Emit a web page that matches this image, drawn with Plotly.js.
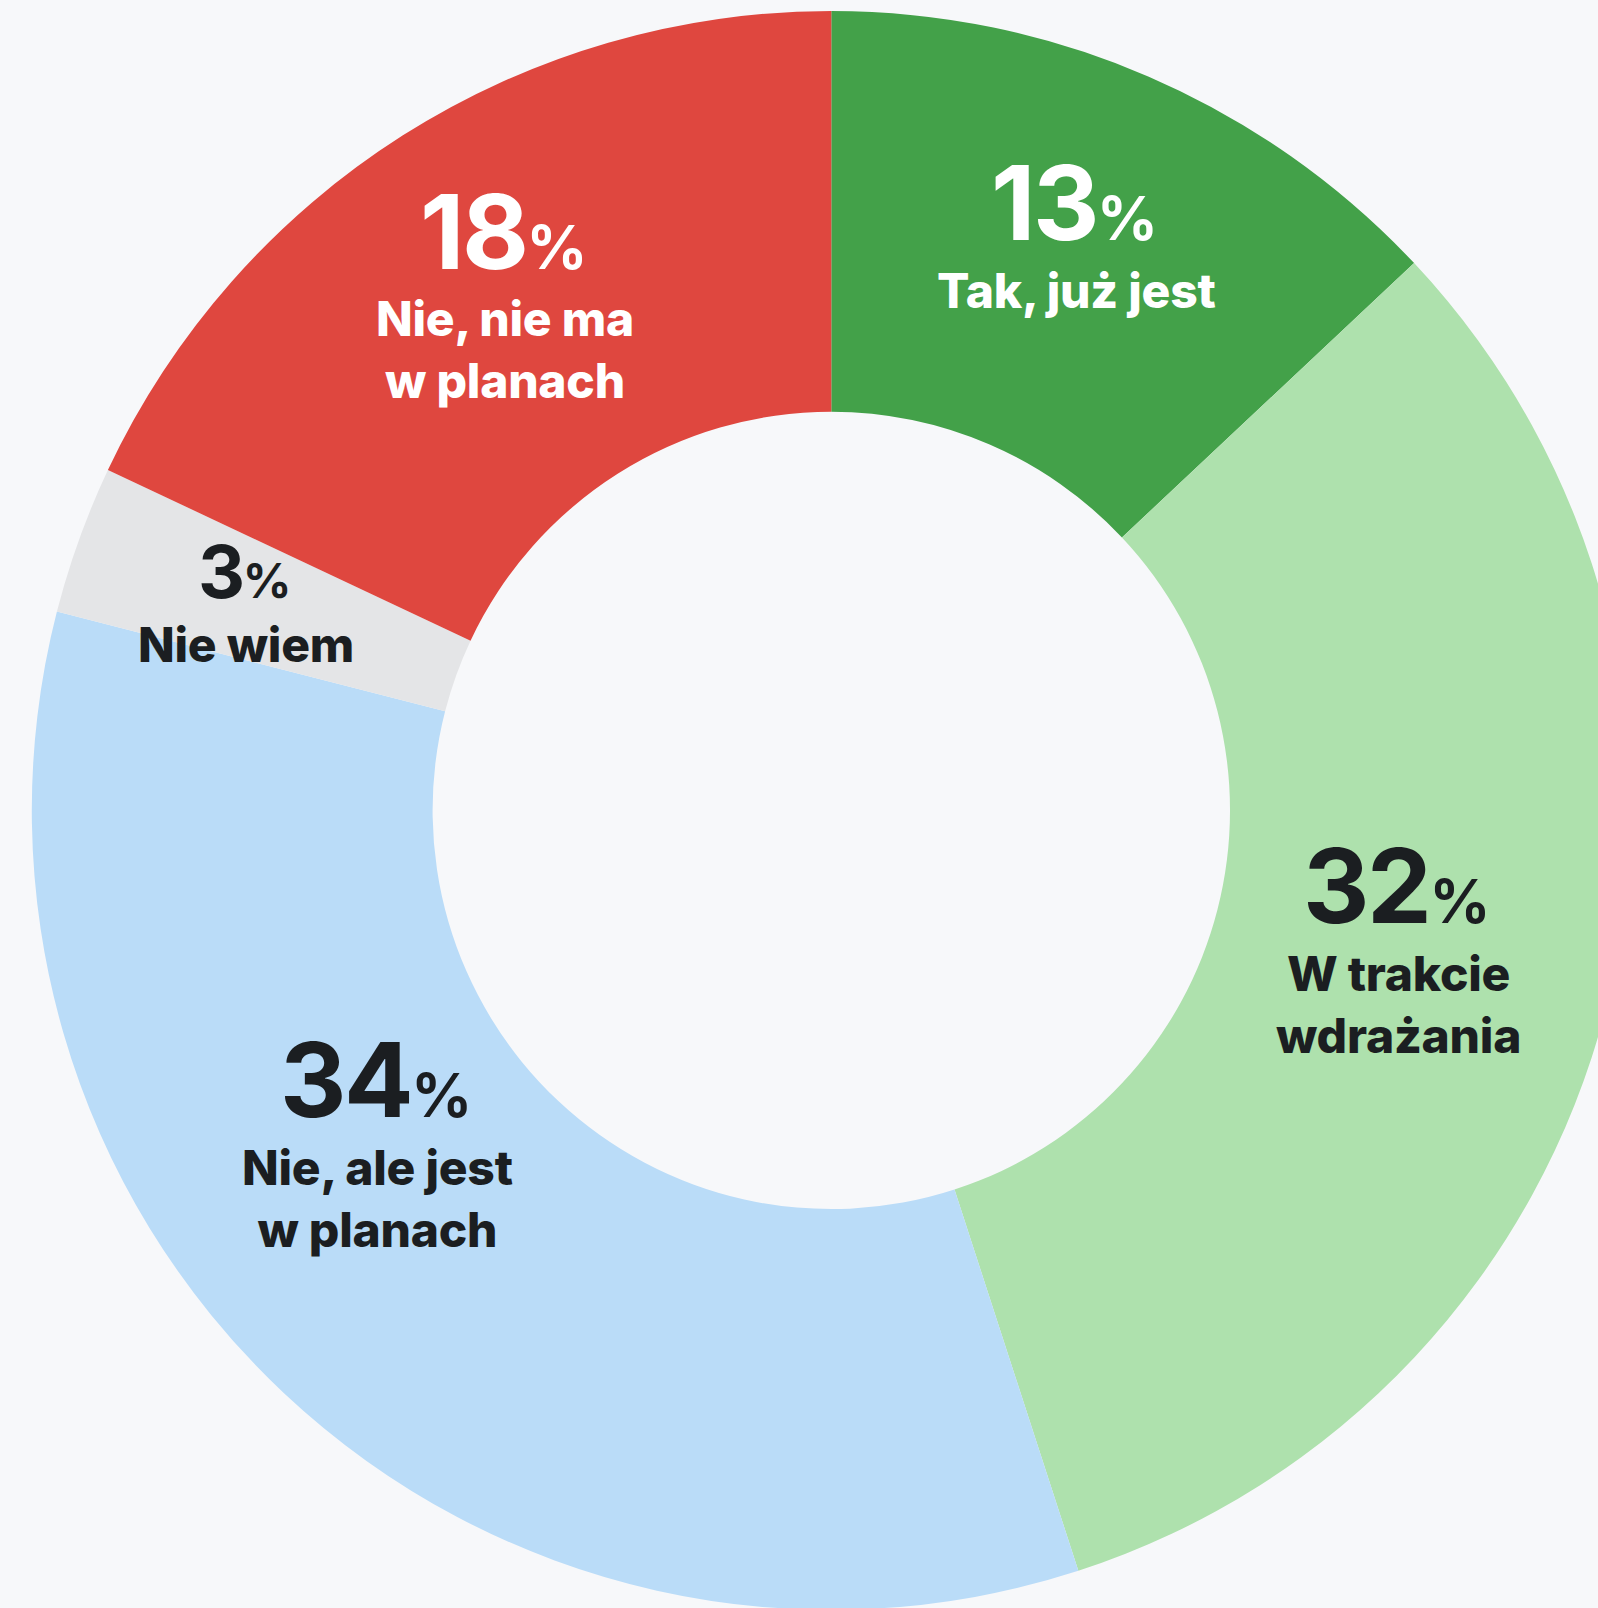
<!DOCTYPE html>
<html>
<head>
<meta charset="utf-8">
<script src="https://cdn.plot.ly/plotly-3.0.1.min.js"></script>
<style>
  html, body { margin: 0; padding: 0; overflow: hidden; background: #F7F8FA; }
  #chart { width: 1700px; height: 1700px; }
</style>
</head>
<body>
<div id="chart"></div>
<script>
// ---- data ----
const categories = ["Tak, już jest", "W trakcie wdrażania", "Nie, ale jest w planach", "Nie wiem", "Nie, nie ma w planach"];
const labelLines = ["Tak, już jest", "W trakcie<br>wdrażania", "Nie, ale jest<br>w planach", "Nie wiem", "Nie, nie ma<br>w planach"];
const shares = [13, 32, 34, 3, 18];

// ---- style ----
const sliceColors = ["#43A149", "#AEE1AD", "#BADCF8", "#E4E5E7", "#DF473F"];
const textColors = ["#FFFFFF", "#1B1E21", "#1B1E21", "#1B1E21", "#FFFFFF"];
const BG = "#F7F8FA";
const W = 1700, H = 1700;
// label placement (pixel centres): [numX, numY, labX, labY, numSize, pctSize]
const place = [
  [1074, 202.5, 1076, 290.5, 103, 60],
  [1396.5, 885, 1398, 1004, 103, 60],
  [375.5, 1079.5, 377.5, 1198, 103, 60],
  [245, 571.5, 246.5, 644, 73, 48],
  [503.5, 231.5, 505, 349, 103, 60]
];
const cx = 831.3, cy = 810.4, R = 799.5;

const trace = {
  type: "pie",
  labels: categories,
  values: shares,
  sort: false,
  direction: "clockwise",
  rotation: 0,
  hole: 0.4987,
  textinfo: "none",
  hoverinfo: "none",
  marker: { colors: sliceColors, line: { width: 0 } },
  domain: { x: [(cx - R) / W, (cx + R) / W], y: [1 - (cy + R) / H, 1 - (cy - R) / H] }
};

const FONT = "Inter, 'Noto Sans', sans-serif";
const annotations = [];
shares.forEach((v, i) => {
  const p = place[i];
  annotations.push({
    xref: "paper", yref: "paper", x: p[0] / W, y: 1 - p[1] / H,
    xanchor: "center", yanchor: "middle", showarrow: false,
    text: "<span style='letter-spacing:-2.5px'>" + v + "</span><span style='font-size:" + p[5] + "px'>&nbsp;%</span>".replace("&nbsp;", ""),
    font: { family: FONT, size: p[4], color: textColors[i], weight: 700 }
  });
  annotations.push({
    xref: "paper", yref: "paper", x: p[2] / W, y: 1 - p[3] / H,
    xanchor: "center", yanchor: "middle", showarrow: false,
    text: labelLines[i].split("<br>").map(s => "<span style='letter-spacing:-0.25px'>" + s + "</span>").join("<br>"),
    font: { family: FONT, size: 48, color: textColors[i], weight: 800 }
  });
});

const layout = {
  width: W, height: H,
  margin: { l: 0, r: 0, t: 0, b: 0, pad: 0 },
  paper_bgcolor: BG, plot_bgcolor: BG,
  showlegend: false,
  annotations: annotations
};

Plotly.newPlot("chart", [trace], layout, { displayModeBar: false, staticPlot: true });
</script>
</body>
</html>
